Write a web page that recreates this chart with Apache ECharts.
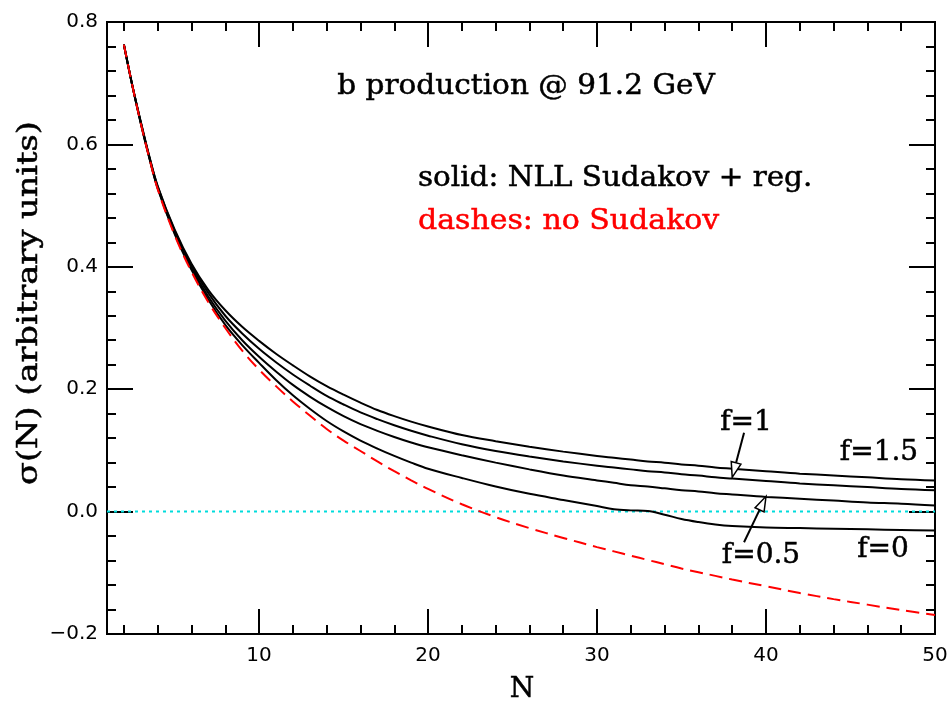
<!DOCTYPE html>
<html>
<head>
<meta charset="utf-8">
<script src="https://cdn.jsdelivr.net/npm/echarts@6/dist/echarts.min.js"></script>
<style>
  html, body { margin: 0; padding: 0; background: #fff; }
  #chart { width: 951px; height: 702px; }
</style>
</head>
<body>
<div id="chart"></div>
<script>
// Moment index N at which sigma(N) is sampled
const nValues = [2, 2.5, 3, 3.5, 4, 5, 6, 7, 8, 9, 10, 11, 12, 13, 14, 15, 16, 17, 18, 19, 20,
  22, 24, 26, 28, 30, 31, 32, 33, 34, 35, 36, 37, 38, 40, 42, 44, 46, 48, 50];

// dashes: no Sudakov
const noSudakov = [0.763, 0.696, 0.634, 0.578, 0.527, 0.452, 0.392, 0.342, 0.300, 0.263, 0.232,
  0.205, 0.180, 0.157, 0.135, 0.116, 0.099, 0.082, 0.066, 0.051, 0.037,
  0.012, -0.009, -0.027, -0.043, -0.058, -0.065, -0.072, -0.079, -0.086, -0.093, -0.099, -0.105,
  -0.111, -0.122, -0.133, -0.143, -0.152, -0.161, -0.169];

// solid: NLL Sudakov + reg., for f = 0, 0.5, 1, 1.5
const sudakovF0 = [0.763, 0.696, 0.634, 0.578, 0.528, 0.454, 0.395, 0.346, 0.305, 0.272, 0.243,
  0.215, 0.190, 0.168, 0.148, 0.131, 0.116, 0.103, 0.091, 0.080, 0.070,
  0.055, 0.041, 0.029, 0.019, 0.009, 0.004, 0.002, 0.001, -0.005, -0.012, -0.017, -0.021,
  -0.0235, -0.026, -0.027, -0.028, -0.029, -0.030, -0.031];
const sudakovF05 = [0.763, 0.696, 0.635, 0.579, 0.529, 0.456, 0.398, 0.351, 0.312, 0.280, 0.253,
  0.229, 0.207, 0.188, 0.171, 0.156, 0.143, 0.132, 0.122, 0.113, 0.105,
  0.092, 0.080, 0.069, 0.059, 0.051, 0.047, 0.043, 0.041, 0.038, 0.035, 0.033, 0.030,
  0.028, 0.024, 0.021, 0.018, 0.015, 0.013, 0.010];
const sudakovF1 = [0.763, 0.696, 0.636, 0.580, 0.531, 0.459, 0.402, 0.357, 0.320, 0.291, 0.266,
  0.244, 0.224, 0.206, 0.189, 0.175, 0.162, 0.151, 0.141, 0.132, 0.124,
  0.110, 0.099, 0.090, 0.082, 0.075, 0.072, 0.069, 0.066, 0.064, 0.061, 0.059, 0.056,
  0.054, 0.050, 0.046, 0.043, 0.040, 0.037, 0.035];
const sudakovF15 = [0.763, 0.696, 0.637, 0.581, 0.532, 0.461, 0.405, 0.362, 0.329, 0.302, 0.279,
  0.258, 0.239, 0.221, 0.205, 0.191, 0.178, 0.166, 0.156, 0.147, 0.139,
  0.125, 0.115, 0.106, 0.098, 0.091, 0.088, 0.085, 0.082, 0.080, 0.077, 0.075, 0.072,
  0.070, 0.066, 0.062, 0.059, 0.056, 0.053, 0.051];

// zero reference line
const zeroLineN = [1, 50];
const zeroLineV = [0, 0];

// axis ticks
const xMajorTicks = [10, 20, 30, 40, 50];
const xMinorTicks = [2, 4, 6, 8, 12, 14, 16, 18, 22, 24, 26, 28, 32, 34, 36, 38, 42, 44, 46, 48];

// pointer arrows: [tail N, tail sigma, tip N, tip sigma]
const arrowF1 = [38.7, 0.129, 38.0, 0.056];
const arrowF05 = [38.7, -0.050, 40.0, 0.025];

const pairs = (xs, ys) => xs.map((x, i) => [x, ys[i]]);

const textFamily = '"DejaVu Serif", serif';
const tickFont = 'DejaVu Sans';

function note(text, x, y, opts) {
  const o = opts || {};
  const color = o.color || '#000';
  return {
    type: 'text',
    x: x, y: y,
    rotation: o.rotation || 0,
    scaleX: o.scaleX || 1,
    style: {
      text: text,
      fontFamily: textFamily,
      fontSize: 28,
      fill: color,
      stroke: color,
      lineWidth: 0.5,
      align: o.align || 'center',
      verticalAlign: 'middle'
    },
    z: 100
  };
}

const tickStyle = { color: '#000', width: 2 };

function xAxisDef(position, ticks, length, withLabels) {
  return {
    type: 'value', position: position, min: 1, max: 50,
    axisLine: { show: false, onZero: false },
    splitLine: { show: false },
    axisTick: { show: true, inside: true, length: length, customValues: ticks, lineStyle: tickStyle },
    axisLabel: withLabels ? {
      show: true, customValues: ticks, margin: 12,
      color: '#000', fontFamily: tickFont, fontSize: 20
    } : { show: false }
  };
}

function yAxisDef(position, withLabels) {
  return {
    type: 'value', position: position, min: -0.2, max: 0.8, interval: 0.2,
    axisLine: { show: false, onZero: false },
    splitLine: { show: false },
    axisTick: { show: true, inside: true, length: 26, lineStyle: tickStyle },
    minorTick: { show: true, splitNumber: 5, length: 9, lineStyle: tickStyle },
    axisLabel: withLabels ? {
      show: true, margin: 9, color: '#000', fontFamily: tickFont, fontSize: 20,
      formatter: v => (v < -1e-9 ? '\u2212' : '') + Math.abs(v).toFixed(1)
    } : { show: false }
  };
}

const chart = echarts.init(document.getElementById('chart'), null, { renderer: 'canvas' });

chart.setOption({
  animation: false,
  backgroundColor: '#fff',
  grid: {
    left: 107, right: 16, top: 22, bottom: 68,
    show: true, borderColor: '#000', borderWidth: 2, backgroundColor: 'transparent',
    containLabel: false, outerBoundsMode: 'none'
  },
  xAxis: [
    xAxisDef('bottom', xMajorTicks, 25, true),
    xAxisDef('bottom', xMinorTicks, 9, false),
    xAxisDef('top', xMajorTicks, 25, false),
    xAxisDef('top', xMinorTicks, 9, false)
  ],
  yAxis: [
    yAxisDef('left', true),
    yAxisDef('right', false)
  ],
  series: [
    {
      name: 'zero', type: 'line', data: pairs(zeroLineN, zeroLineV), symbol: 'none',
      lineStyle: { color: '#00dcdc', width: 2, type: [3, 4] }, z: 1, silent: true
    },
    ...[sudakovF0, sudakovF05, sudakovF1, sudakovF15].map((ys, i) => ({
      name: 'sudakov' + i, type: 'line', data: pairs(nValues, ys), symbol: 'none',
      smooth: 0.35,
      lineStyle: { color: '#000', width: 2 }, z: 2, silent: true
    })),
    {
      name: 'noSudakov', type: 'line', data: pairs(nValues, noSudakov), symbol: 'none',
      smooth: 0.35,
      lineStyle: { color: '#ff0000', width: 2, type: [13, 7] }, z: 3, silent: true
    },
    {
      name: 'arrows', type: 'custom', silent: true, z: 4,
      encode: { x: [0, 2], y: [1, 3] },
      data: [arrowF1, arrowF05],
      renderItem: function (params, api) {
        const tail = api.coord([api.value(0), api.value(1)]);
        const tip = api.coord([api.value(2), api.value(3)]);
        const dx = tip[0] - tail[0], dy = tip[1] - tail[1];
        const len = Math.hypot(dx, dy);
        const ux = dx / len, uy = dy / len;
        const headLen = 15, half = 5;
        const bx = tip[0] - ux * headLen, by = tip[1] - uy * headLen;
        const px = -uy, py = ux;
        return {
          type: 'group',
          children: [
            { type: 'polyline', shape: { points: [tail, [bx, by]] },
              style: { stroke: '#000', lineWidth: 2, fill: null } },
            { type: 'polygon',
              shape: { points: [[tip[0], tip[1]], [bx + px * half, by + py * half], [bx - px * half, by - py * half]] },
              style: { fill: '#fff', stroke: '#000', lineWidth: 1.5 } }
          ]
        };
      }
    }
  ],
  graphic: [
    note('b production @ 91.2 GeV', 526, 87, { scaleX: 1.055 }),
    note('solid: NLL Sudakov + reg.', 418, 179, { align: 'left', scaleX: 1.05 }),
    note('dashes: no Sudakov', 418, 222, { align: 'left', color: '#ff0000', scaleX: 1.07 }),
    note('f=1', 746, 423),
    note('f=1.5', 879, 453),
    note('f=0.5', 761, 556),
    note('f=0', 883, 550),
    note('N', 522, 690),
    note('\u03c3(N) (arbitrary units)', 30, 303, { rotation: Math.PI / 2, scaleX: 1.2 })
  ]
});
</script>
</body>
</html>
